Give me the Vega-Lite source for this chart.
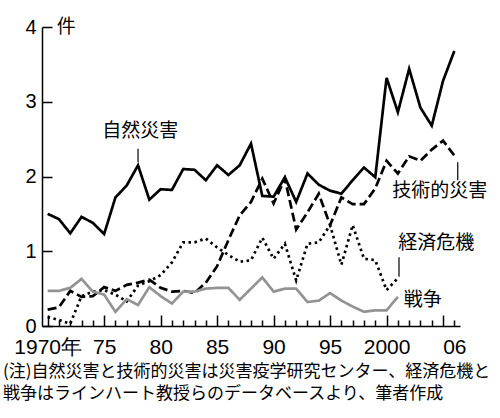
{
  "$schema": "https://vega.github.io/schema/vega-lite/v6.json",
  "width": 418,
  "height": 299,
  "autosize": {"type": "none"},
  "padding": {"left": 42, "top": 27, "right": 40, "bottom": 92},
  "background": "white",
  "title": {
    "text": ["(注)自然災害と技術的災害は災害疫学研究センター、経済危機と", "戦争はラインハート教授らのデータベースより、筆者作成"],
    "orient": "bottom",
    "anchor": "start",
    "frame": "group",
    "font": "Noto Sans CJK JP",
    "fontSize": 17,
    "fontWeight": "normal",
    "lineHeight": 22,
    "offset": 7,
    "dx": -39,
    "color": "black"
  },
  "datasets": {
    "series": [
      {"series": "自然災害", "year": 1970, "value": 1.5},
      {"series": "自然災害", "year": 1971, "value": 1.43},
      {"series": "自然災害", "year": 1972, "value": 1.24},
      {"series": "自然災害", "year": 1973, "value": 1.46},
      {"series": "自然災害", "year": 1974, "value": 1.38},
      {"series": "自然災害", "year": 1975, "value": 1.23},
      {"series": "自然災害", "year": 1976, "value": 1.72},
      {"series": "自然災害", "year": 1977, "value": 1.88},
      {"series": "自然災害", "year": 1978, "value": 2.15},
      {"series": "自然災害", "year": 1979, "value": 1.69},
      {"series": "自然災害", "year": 1980, "value": 1.83},
      {"series": "自然災害", "year": 1981, "value": 1.82},
      {"series": "自然災害", "year": 1982, "value": 2.1},
      {"series": "自然災害", "year": 1983, "value": 2.09},
      {"series": "自然災害", "year": 1984, "value": 1.95},
      {"series": "自然災害", "year": 1985, "value": 2.15},
      {"series": "自然災害", "year": 1986, "value": 2.02},
      {"series": "自然災害", "year": 1987, "value": 2.15},
      {"series": "自然災害", "year": 1988, "value": 2.44},
      {"series": "自然災害", "year": 1989, "value": 1.74},
      {"series": "自然災害", "year": 1990, "value": 1.73},
      {"series": "自然災害", "year": 1991, "value": 1.99},
      {"series": "自然災害", "year": 1992, "value": 1.66},
      {"series": "自然災害", "year": 1993, "value": 2.04},
      {"series": "自然災害", "year": 1994, "value": 1.89},
      {"series": "自然災害", "year": 1995, "value": 1.81},
      {"series": "自然災害", "year": 1996, "value": 1.77},
      {"series": "自然災害", "year": 1997, "value": 1.95},
      {"series": "自然災害", "year": 1998, "value": 2.12},
      {"series": "自然災害", "year": 1999, "value": 1.99},
      {"series": "自然災害", "year": 2000, "value": 3.32},
      {"series": "自然災害", "year": 2001, "value": 2.86},
      {"series": "自然災害", "year": 2002, "value": 3.44},
      {"series": "自然災害", "year": 2003, "value": 2.92},
      {"series": "自然災害", "year": 2004, "value": 2.68},
      {"series": "自然災害", "year": 2005, "value": 3.28},
      {"series": "自然災害", "year": 2006, "value": 3.68},
      {"series": "技術的災害", "year": 1970, "value": 0.22},
      {"series": "技術的災害", "year": 1971, "value": 0.25},
      {"series": "技術的災害", "year": 1972, "value": 0.47},
      {"series": "技術的災害", "year": 1973, "value": 0.39},
      {"series": "技術的災害", "year": 1974, "value": 0.4},
      {"series": "技術的災害", "year": 1975, "value": 0.52},
      {"series": "技術的災害", "year": 1976, "value": 0.47},
      {"series": "技術的災害", "year": 1977, "value": 0.55},
      {"series": "技術的災害", "year": 1978, "value": 0.58},
      {"series": "技術的災害", "year": 1979, "value": 0.62},
      {"series": "技術的災害", "year": 1980, "value": 0.51},
      {"series": "技術的災害", "year": 1981, "value": 0.46},
      {"series": "技術的災害", "year": 1982, "value": 0.47},
      {"series": "技術的災害", "year": 1983, "value": 0.44},
      {"series": "技術的災害", "year": 1984, "value": 0.58},
      {"series": "技術的災害", "year": 1985, "value": 0.8},
      {"series": "技術的災害", "year": 1986, "value": 1.15},
      {"series": "技術的災害", "year": 1987, "value": 1.48},
      {"series": "技術的災害", "year": 1988, "value": 1.66},
      {"series": "技術的災害", "year": 1989, "value": 1.97},
      {"series": "技術的災害", "year": 1990, "value": 1.64},
      {"series": "技術的災害", "year": 1991, "value": 1.97},
      {"series": "技術的災害", "year": 1992, "value": 1.29},
      {"series": "技術的災害", "year": 1993, "value": 1.52},
      {"series": "技術的災害", "year": 1994, "value": 1.77},
      {"series": "技術的災害", "year": 1995, "value": 1.35},
      {"series": "技術的災害", "year": 1996, "value": 1.72},
      {"series": "技術的災害", "year": 1997, "value": 1.63},
      {"series": "技術的災害", "year": 1998, "value": 1.63},
      {"series": "技術的災害", "year": 1999, "value": 1.84},
      {"series": "技術的災害", "year": 2000, "value": 2.21},
      {"series": "技術的災害", "year": 2001, "value": 2.04},
      {"series": "技術的災害", "year": 2002, "value": 2.27},
      {"series": "技術的災害", "year": 2003, "value": 2.21},
      {"series": "技術的災害", "year": 2004, "value": 2.36},
      {"series": "技術的災害", "year": 2005, "value": 2.48},
      {"series": "技術的災害", "year": 2006, "value": 2.28},
      {"series": "経済危機", "year": 1970, "value": 0.12},
      {"series": "経済危機", "year": 1971, "value": 0.08},
      {"series": "経済危機", "year": 1972, "value": 0.03},
      {"series": "経済危機", "year": 1973, "value": 0.4},
      {"series": "経済危機", "year": 1974, "value": 0.46},
      {"series": "経済危機", "year": 1975, "value": 0.48},
      {"series": "経済危機", "year": 1976, "value": 0.42},
      {"series": "経済危機", "year": 1977, "value": 0.33},
      {"series": "経済危機", "year": 1978, "value": 0.54},
      {"series": "経済危機", "year": 1979, "value": 0.6},
      {"series": "経済危機", "year": 1980, "value": 0.68},
      {"series": "経済危機", "year": 1981, "value": 0.85},
      {"series": "経済危機", "year": 1982, "value": 1.12},
      {"series": "経済危機", "year": 1983, "value": 1.12},
      {"series": "経済危機", "year": 1984, "value": 1.17},
      {"series": "経済危機", "year": 1985, "value": 1.05},
      {"series": "経済危機", "year": 1986, "value": 0.95},
      {"series": "経済危機", "year": 1987, "value": 0.86},
      {"series": "経済危機", "year": 1988, "value": 0.88},
      {"series": "経済危機", "year": 1989, "value": 1.18},
      {"series": "経済危機", "year": 1990, "value": 0.9},
      {"series": "経済危機", "year": 1991, "value": 1.1},
      {"series": "経済危機", "year": 1992, "value": 0.61},
      {"series": "経済危機", "year": 1993, "value": 1.1},
      {"series": "経済危機", "year": 1994, "value": 1.12},
      {"series": "経済危機", "year": 1995, "value": 1.35},
      {"series": "経済危機", "year": 1996, "value": 0.82},
      {"series": "経済危機", "year": 1997, "value": 1.35},
      {"series": "経済危機", "year": 1998, "value": 0.9},
      {"series": "経済危機", "year": 1999, "value": 0.88},
      {"series": "経済危機", "year": 2000, "value": 0.48},
      {"series": "経済危機", "year": 2001, "value": 0.64},
      {"series": "戦争", "year": 1970, "value": 0.47},
      {"series": "戦争", "year": 1971, "value": 0.47},
      {"series": "戦争", "year": 1972, "value": 0.51},
      {"series": "戦争", "year": 1973, "value": 0.63},
      {"series": "戦争", "year": 1974, "value": 0.46},
      {"series": "戦争", "year": 1975, "value": 0.42},
      {"series": "戦争", "year": 1976, "value": 0.19},
      {"series": "戦争", "year": 1977, "value": 0.36},
      {"series": "戦争", "year": 1978, "value": 0.28},
      {"series": "戦争", "year": 1979, "value": 0.52},
      {"series": "戦争", "year": 1980, "value": 0.4},
      {"series": "戦争", "year": 1981, "value": 0.3},
      {"series": "戦争", "year": 1982, "value": 0.46},
      {"series": "戦争", "year": 1983, "value": 0.46},
      {"series": "戦争", "year": 1984, "value": 0.5},
      {"series": "戦争", "year": 1985, "value": 0.51},
      {"series": "戦争", "year": 1986, "value": 0.51},
      {"series": "戦争", "year": 1987, "value": 0.35},
      {"series": "戦争", "year": 1988, "value": 0.5},
      {"series": "戦争", "year": 1989, "value": 0.65},
      {"series": "戦争", "year": 1990, "value": 0.46},
      {"series": "戦争", "year": 1991, "value": 0.5},
      {"series": "戦争", "year": 1992, "value": 0.5},
      {"series": "戦争", "year": 1993, "value": 0.32},
      {"series": "戦争", "year": 1994, "value": 0.34},
      {"series": "戦争", "year": 1995, "value": 0.44},
      {"series": "戦争", "year": 1996, "value": 0.34},
      {"series": "戦争", "year": 1997, "value": 0.26},
      {"series": "戦争", "year": 1998, "value": 0.19},
      {"series": "戦争", "year": 1999, "value": 0.21},
      {"series": "戦争", "year": 2000, "value": 0.21},
      {"series": "戦争", "year": 2001, "value": 0.39}
    ],
    "one": [{"n": 1}]
  },
  "resolve": {"axis": {"x": "independent", "y": "independent"}},
  "layer": [
    {
      "data": {"name": "series"},
      "mark": {"type": "line", "strokeWidth": 2.7, "strokeJoin": "miter"},
      "encoding": {
        "x": {
          "field": "year",
          "type": "quantitative",
          "scale": {"domain": [1969.5, 2006.5], "nice": false, "zero": false},
          "axis": {
            "title": null,
            "grid": false,
            "values": [1970, 1971, 1972, 1973, 1974, 1975, 1976, 1977, 1978, 1979, 1980, 1981, 1982, 1983, 1984, 1985, 1986, 1987, 1988, 1989, 1990, 1991, 1992, 1993, 1994, 1995, 1996, 1997, 1998, 1999, 2000, 2001, 2002, 2003, 2004, 2005, 2006],
            "labelExpr": "datum.value == 1970 ? '1970年' : datum.value == 2000 ? '2000' : datum.value == 2006 ? '06' : (datum.value % 5 == 0 && datum.value < 2000 ? '' + (datum.value - 1900) : '')",
            "tickSize": {"condition": {"test": "datum.value % 5 == 0", "value": -11}, "value": -6},
            "labelPadding": {"condition": {"test": "datum.value % 5 == 0", "value": 21}, "value": 16},
            "tickColor": "black",
            "tickWidth": 1.5,
            "domainColor": "black",
            "domainWidth": 1.5,
            "labelFont": "Liberation Sans",
            "labelFontSize": 21,
            "labelColor": "black",
            "labelOverlap": false,
            "labelFlush": false
          }
        },
        "y": {
          "field": "value",
          "type": "quantitative",
          "scale": {"domain": [0, 4], "nice": false},
          "axis": {
            "title": null,
            "grid": false,
            "values": [0, 1, 2, 3, 4],
            "format": "d",
            "tickSize": -10,
            "tickColor": "black",
            "tickWidth": 1.5,
            "domainColor": "black",
            "domainWidth": 1.5,
            "labelFont": "Liberation Sans",
            "labelFontSize": 20,
            "labelColor": "black",
            "labelPadding": 16
          }
        },
        "color": {
          "field": "series",
          "type": "nominal",
          "scale": {"domain": ["戦争", "経済危機", "技術的災害", "自然災害"], "range": ["#939393", "black", "black", "black"]},
          "legend": null
        },
        "strokeDash": {
          "field": "series",
          "type": "nominal",
          "scale": {"domain": ["戦争", "経済危機", "技術的災害", "自然災害"], "range": [[1, 0], [2.5, 3.5], [9, 4], [1, 0]]},
          "legend": null
        }
      }
    },
    {
      "data": {"name": "one"},
      "mark": {"type": "text", "text": "件", "font": "Noto Sans CJK JP", "fontSize": 19, "align": "left", "baseline": "middle", "color": "black"},
      "encoding": {"x": {"datum": 1970.8, "axis": null}, "y": {"datum": 4, "axis": null}}
    },
    {
      "data": {"name": "one"},
      "mark": {"type": "text", "text": "自然災害", "font": "Noto Sans CJK JP", "fontSize": 19, "align": "center", "baseline": "middle", "color": "black"},
      "encoding": {"x": {"datum": 1978.2, "axis": null}, "y": {"datum": 2.61, "axis": null}}
    },
    {
      "data": {"name": "one"},
      "mark": {"type": "rule", "strokeWidth": 1.2, "color": "black"},
      "encoding": {"x": {"datum": 1978, "axis": null}, "y": {"datum": 2.37, "axis": null}, "y2": {"datum": 2.19}}
    },
    {
      "data": {"name": "one"},
      "mark": {"type": "text", "text": "技術的災害", "font": "Noto Sans CJK JP", "fontSize": 19, "align": "center", "baseline": "middle", "color": "black"},
      "encoding": {"x": {"datum": 2004.7, "axis": null}, "y": {"datum": 1.81, "axis": null}}
    },
    {
      "data": {"name": "one"},
      "mark": {"type": "rule", "strokeWidth": 1.2, "color": "black"},
      "encoding": {"x": {"datum": 2006.3, "axis": null}, "y": {"datum": 2.19, "axis": null}, "y2": {"datum": 1.95}}
    },
    {
      "data": {"name": "one"},
      "mark": {"type": "text", "text": "経済危機", "font": "Noto Sans CJK JP", "fontSize": 19, "align": "center", "baseline": "middle", "color": "black"},
      "encoding": {"x": {"datum": 2004.4, "axis": null}, "y": {"datum": 1.11, "axis": null}}
    },
    {
      "data": {"name": "one"},
      "mark": {"type": "rule", "strokeWidth": 1.2, "color": "black"},
      "encoding": {"x": {"datum": 2001.1, "axis": null}, "y": {"datum": 0.92, "axis": null}, "y2": {"datum": 0.66}}
    },
    {
      "data": {"name": "one"},
      "mark": {"type": "text", "text": "戦争", "font": "Noto Sans CJK JP", "fontSize": 19, "align": "center", "baseline": "middle", "color": "black"},
      "encoding": {"x": {"datum": 2003.2, "axis": null}, "y": {"datum": 0.35, "axis": null}}
    }
  ],
  "config": {"view": {"stroke": null}}
}
